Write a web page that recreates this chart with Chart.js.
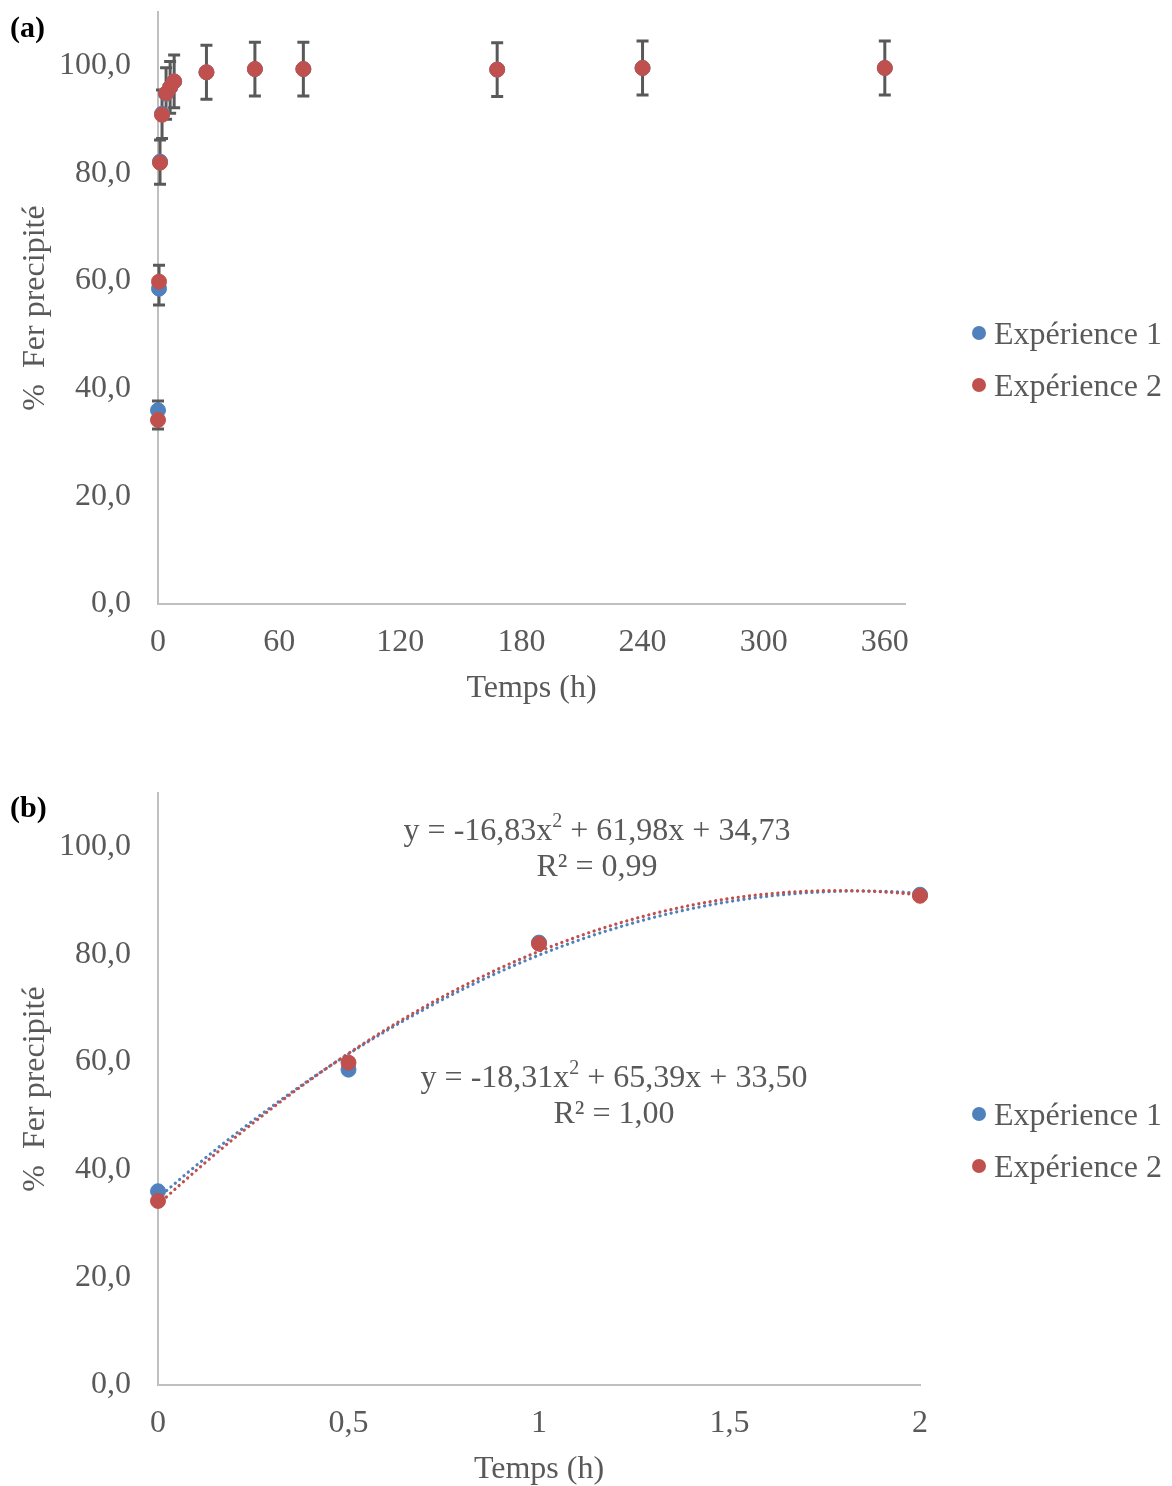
<!DOCTYPE html>
<html>
<head>
<meta charset="utf-8">
<script src="https://cdn.jsdelivr.net/npm/chart.js@4"></script>
<style>
  body { margin: 0; background: #fff; font-family: "Liberation Serif", "Times New Roman", serif; color: #595959; }
  #wrap { position: relative; width: 1172px; height: 1486px; overflow: hidden; }
  canvas { position: absolute; left: 0; }
  .panel { position: absolute; left: 10px; font-weight: bold; font-size: 30px; color: #000; }
  .leg { position: absolute; left: 972px; font-size: 32px; line-height: 36px; white-space: nowrap; }
  .dot { display: inline-block; width: 14px; height: 14px; border-radius: 50%; margin-right: 8px; vertical-align: 4px; }
  .eq { position: absolute; font-size: 32px; line-height: 36px; text-align: center; white-space: nowrap; transform: translateX(-50%); }
  .eq sup { font-size: 20px; line-height: 0; vertical-align: 13px; }
</style>
</head>
<body>
<div id="wrap">
  <canvas id="chartA" width="1172" height="708" style="top:0"></canvas>
  <canvas id="chartB" width="1172" height="708" style="top:781px"></canvas>

  <div class="panel" style="top:10px">(a)</div>
  <div class="panel" style="top:790px">(b)</div>

  <div class="leg" style="top:315px"><span class="dot" style="background:#4F81BD"></span>Expérience 1</div>
  <div class="leg" style="top:367px"><span class="dot" style="background:#C0504D"></span>Expérience 2</div>
  <div class="leg" style="top:1096px"><span class="dot" style="background:#4F81BD"></span>Expérience 1</div>
  <div class="leg" style="top:1148px"><span class="dot" style="background:#C0504D"></span>Expérience 2</div>

  <div class="eq" style="left:597px;top:811px">y = -16,83x<sup>2</sup> + 61,98x + 34,73<br>R² = 0,99</div>
  <div class="eq" style="left:614px;top:1058px">y = -18,31x<sup>2</sup> + 65,39x + 33,50<br>R² = 1,00</div>
</div>

<script>
// temps (h) et % fer précipité
var temps = [0, 0.5, 1, 2, 4, 6, 8, 24, 48, 72, 168, 240, 360];
var exp1 = [36.0, 58.6, 82.2, 91.1, 94.8, 96.0, 97.1, 98.8, 99.4, 99.4, 99.3, 99.6, 99.6];
var exp2 = [34.2, 59.9, 82.0, 90.9, 94.9, 96.0, 97.1, 98.8, 99.4, 99.4, 99.3, 99.6, 99.6];
var erreur = [2.6, 3.7, 4.1, 4.5, 4.8, 4.8, 4.9, 5.0, 5.0, 5.0, 5.0, 5.0, 5.0];

// panel (b): first 2 hours
var tempsB = [0, 0.5, 1, 2];
var exp1B = [36.0, 58.6, 82.2, 91.1];
var exp2B = [34.2, 59.9, 82.0, 90.9];
// trend line coefficients (a x^2 + b x + c) as printed on the chart
var fit1 = [-16.83, 61.98, 34.73];
var fit2 = [-18.31, 65.39, 33.50];

var blue = '#4F81BD';
var red = '#C0504D';
var grey = '#595959';
var font = { family: 'Liberation Serif', size: 32 };

function pts(xs, ys) {
  return xs.map(function (x, i) { return { x: x, y: ys[i] }; });
}

function trend(c, x0, x1) {
  var out = [];
  for (var k = 0; k <= 100; k++) {
    var x = x0 + (x1 - x0) * k / 100;
    out.push({ x: x, y: c[0] * x * x + c[1] * x + c[2] });
  }
  return out;
}

function comma(v) { return String(v).replace('.', ','); }

function options(xMax, xStep, xLast, rightPad) {
  return {
    responsive: false,
    animation: false,
    layout: { padding: { top: 12, right: rightPad, left: 0, bottom: 0 } },
    plugins: { legend: { display: false }, tooltip: { enabled: false } },
    scales: {
      x: {
        type: 'linear', min: 0, max: xMax, bounds: 'data',
        grid: { display: false, drawTicks: false, tickLength: 0 },
        border: { display: true, color: '#BFBFBF', width: 2 },
        ticks: { stepSize: xStep, color: grey, font: font, padding: 19,
                 maxRotation: 0, autoSkip: false, callback: function (v) { return comma(v); } },
        title: { display: true, text: 'Temps (h)', color: grey, font: font, padding: { top: 0, bottom: 0 } },
        afterBuildTicks: function (s) { s.ticks = s.ticks.filter(function (t) { return t.value <= xLast; }); },
        afterFit: function (s) { s.height = 104; s.paddingLeft = 0; s.paddingRight = 0; }
      },
      y: {
        min: 0, max: 110, bounds: 'data',
        grid: { display: false, drawTicks: false, tickLength: 0 },
        border: { display: true, color: '#BFBFBF', width: 2 },
        ticks: { stepSize: 20, color: grey, font: font, padding: 27,
                 callback: function (v) { return v.toFixed(1).replace('.', ','); } },
        title: { display: true, text: '%  Fer precipité', color: grey, font: font, padding: { top: 16, bottom: 0 } },
        afterBuildTicks: function (s) { s.ticks = s.ticks.filter(function (t) { return t.value <= 100; }); },
        afterFit: function (s) { s.width = 158; s.paddingTop = 0; s.paddingBottom = 0; }
      }
    }
  };
}

var errorBars = {
  id: 'errorBars',
  beforeDatasetsDraw: function (chart) {
    var ctx = chart.ctx, x = chart.scales.x, y = chart.scales.y;
    ctx.save();
    ctx.strokeStyle = grey;
    ctx.lineWidth = 3;
    temps.forEach(function (t, i) {
      var mid = (exp1[i] + exp2[i]) / 2;
      var px = x.getPixelForValue(t);
      var hi = y.getPixelForValue(mid + erreur[i]);
      var lo = y.getPixelForValue(mid - erreur[i]);
      ctx.beginPath();
      ctx.moveTo(px, hi); ctx.lineTo(px, lo);
      ctx.moveTo(px - 6, hi); ctx.lineTo(px + 6, hi);
      ctx.moveTo(px - 6, lo); ctx.lineTo(px + 6, lo);
      ctx.stroke();
    });
    ctx.restore();
  }
};

function pointSet(label, data, color, order) {
  return { label: label, data: data, backgroundColor: color, borderColor: color, borderWidth: 1,
           pointRadius: 7.5, showLine: false, clip: false, order: order };
}

function trendSet(data, color, order) {
  return { label: 'trend', data: data, borderColor: color, backgroundColor: color, borderWidth: 3.2,
           borderDash: [0.1, 5.6], borderCapStyle: 'round', pointRadius: 0, showLine: true,
           tension: 0, clip: false, order: order };
}

new Chart(document.getElementById('chartA'), {
  type: 'scatter',
  data: { datasets: [
    pointSet('Expérience 1', pts(temps, exp1), blue, 1),
    pointSet('Expérience 2', pts(temps, exp2), red, 0)
  ] },
  options: options(370, 60, 360, 267),
  plugins: [errorBars]
});

new Chart(document.getElementById('chartB'), {
  type: 'scatter',
  data: { datasets: [
    pointSet('Expérience 1', pts(tempsB, exp1B), blue, 1),
    pointSet('Expérience 2', pts(tempsB, exp2B), red, 0),
    trendSet(trend(fit1, 0, 2), blue, 3),
    trendSet(trend(fit2, 0, 2), red, 2)
  ] },
  options: options(2, 0.5, 2, 252)
});
</script>
</body>
</html>
